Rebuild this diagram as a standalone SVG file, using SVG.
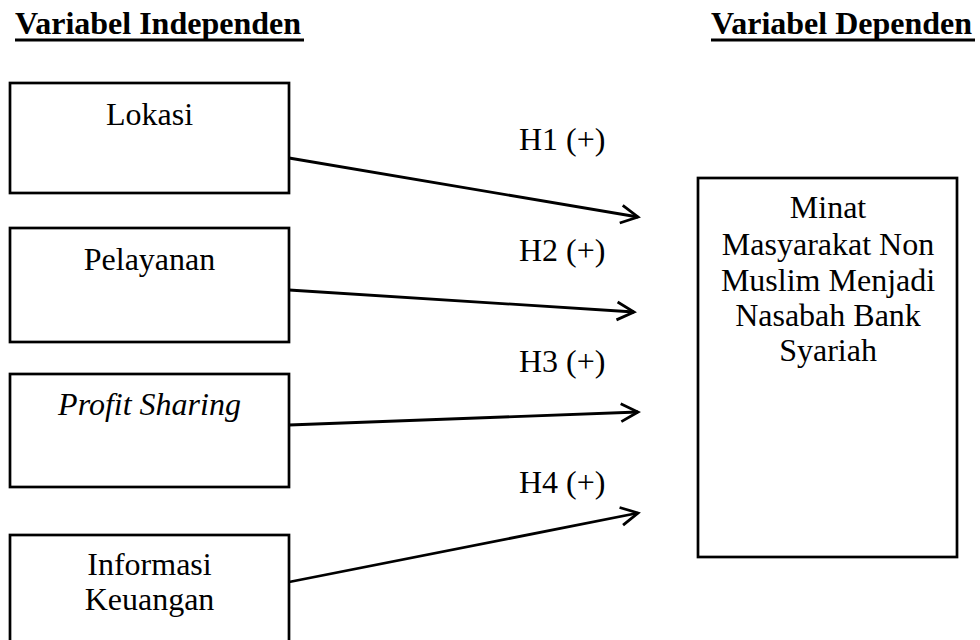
<svg xmlns="http://www.w3.org/2000/svg" width="980" height="640" viewBox="0 0 980 640">
  <defs>
    <marker id="open" viewBox="-20 -12 24 24" refX="0" refY="0" markerWidth="24" markerHeight="24" markerUnits="userSpaceOnUse" orient="auto">
      <path d="M-17,-9 L0,0 L-17,9" fill="none" stroke="#000" stroke-width="2.8"/>
    </marker>
  </defs>
  <style>
    text { font-family: "Liberation Serif", "Times New Roman", serif; font-size: 32px; fill: #000; }
    .title { font-weight: bold; }
    .box { fill: #fff; stroke: #000; stroke-width: 2.7; }
    .c { text-anchor: middle; }
    .conn { stroke: #000; stroke-width: 2.8; fill: none; marker-end: url(#open); }
  </style>
  <rect width="980" height="640" fill="#fff"/>

  <g id="headings">
    <text class="title" x="15" y="34">Variabel Independen</text>
    <line x1="15" y1="40" x2="304" y2="40" stroke="#000" stroke-width="3"/>
    <text class="title" x="711" y="34">Variabel Dependen</text>
    <line x1="711" y1="40" x2="975" y2="40" stroke="#000" stroke-width="3"/>
  </g>

  <g id="connectors">
    <line class="conn" x1="289" y1="158" x2="638" y2="217"/>
    <line class="conn" x1="289" y1="290" x2="634" y2="312"/>
    <line class="conn" x1="289" y1="425" x2="638" y2="412"/>
    <line class="conn" x1="289" y1="582" x2="638" y2="513"/>
  </g>

  <g id="labels">
    <text x="519" y="150">H1 (+)</text>
    <text x="519" y="261">H2 (+)</text>
    <text x="519" y="372">H3 (+)</text>
    <text x="519" y="493">H4 (+)</text>
  </g>

  <g id="lokasi">
    <rect class="box" x="10" y="83" width="279" height="110"/>
    <text class="c" x="149.5" y="125">Lokasi</text>
  </g>
  <g id="pelayanan">
    <rect class="box" x="10" y="228" width="279" height="114"/>
    <text class="c" x="149.5" y="270">Pelayanan</text>
  </g>
  <g id="profit-sharing">
    <rect class="box" x="10" y="374" width="279" height="113"/>
    <text class="c" x="149.5" y="415" font-style="italic">Profit Sharing</text>
  </g>
  <g id="informasi-keuangan">
    <rect class="box" x="10" y="535" width="279" height="120"/>
    <text class="c" x="149.5" y="575">Informasi</text>
    <text class="c" x="149.5" y="610">Keuangan</text>
  </g>

  <g id="minat">
    <rect class="box" x="698" y="178" width="259" height="379"/>
    <text class="c" x="828" y="218">Minat</text>
    <text class="c" x="828" y="255">Masyarakat Non</text>
    <text class="c" x="828" y="291">Muslim Menjadi</text>
    <text class="c" x="828" y="326">Nasabah Bank</text>
    <text class="c" x="828" y="361">Syariah</text>
  </g>
</svg>
